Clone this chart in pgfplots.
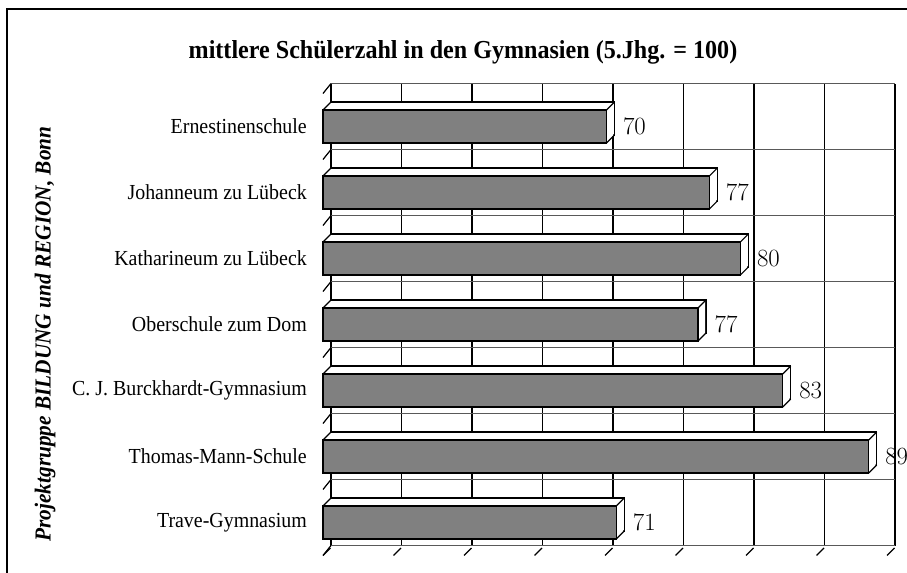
\documentclass[border=0pt]{standalone}
\usepackage{pgfplots}
\pgfplotsset{compat=1.18}
\usepackage{pgfplotstable}
\usepackage{fontspec}
\setmainfont{Liberation Serif}[FakeStretch=0.93]

\pgfplotstableread{
idx val
6 70.1
5 77.4
4 79.6
3 76.6
2 82.6
1 88.7
0 70.8
}\data

\newcommand\lab{\fontsize{21.5}{25}\selectfont}
\newcommand\vlab{\fontsize{23}{27}\selectfont}
\definecolor{bargray}{HTML}{808080}
\pgfplotsset{mybar/.style={xbar, bar shift=0pt, bar width=0.5}}

\begin{document}
\begin{tikzpicture}
\useasboundingbox (0,0) rectangle (907bp,573bp);
\draw[line width=2bp] (7bp,-20bp) -- (7bp,564bp) -- (930bp,564bp);
\node[font=\fontsize{26}{30}\selectfont\bfseries] at (463bp,521bp) {mittlere Schülerzahl in den Gymnasien (5.Jhg. = 100)};
\node[rotate=90, font=\fontsize{23}{27}\selectfont\bfseries\itshape] at (45bp,239bp) {Projektgruppe BILDUNG und REGION, Bonn};

% back wall
\begin{axis}[
  at={(331bp,27.5bp)}, anchor=south west,
  scale only axis, width=564bp, height=462bp,
  xmin=0, xmax=40, ymin=-0.5, ymax=6.5,
  axis line style={draw=none},
  xtick={0,5,...,40}, ytick={-0.5,0.5,...,6.5},
  xticklabels={}, yticklabels={},
  major tick length=0pt,
  xmajorgrids, ymajorgrids,
  x grid style={black, line width=1.2bp},
  y grid style={black!65, line width=1.6bp},
]
\end{axis}

% front
\begin{axis}[
  at={(323bp,17.5bp)}, anchor=south west,
  scale only axis, width=564bp, height=462bp,
  xmin=0, xmax=40, ymin=-0.5, ymax=6.5,
  axis line style={draw=none},
  xtick=\empty, ytick={0,...,6},
  yticklabels={Trave-Gymnasium, Thomas-Mann-Schule, C. J. Burckhardt-Gymnasium, Oberschule zum Dom, Katharineum zu Lübeck, Johanneum zu Lübeck, Ernestinenschule},
  major tick length=0pt,
  yticklabel style={font=\lab, inner sep=0pt, xshift=-16bp},
  clip=false,
]
% floor depth ticks
\addplot[quiver={u=0.53,v=0.114}, black, line width=1.2bp] coordinates {(0,-0.5) (5,-0.5) (10,-0.5) (15,-0.5) (20,-0.5) (25,-0.5) (30,-0.5) (35,-0.5) (40,-0.5)};
% left wall depth lines
\addplot[quiver={u=0.567,v=0.151}, black, line width=1.2bp] coordinates {(0,-0.5) (0,0.5) (0,1.5) (0,2.5) (0,3.5) (0,4.5) (0,5.5) (0,6.5)};

% back face of bars
\addplot[mybar, fill=white, draw=black, line width=1.2bp, xshift=8bp, yshift=8bp] table[x expr=\thisrow{val}-50, y=idx] {\data};
\pgfplotsinvokeforeach{7,6,5,4,3,2,1}{
  \addplot[mybar, fill=white, draw=none, xshift=#1bp, yshift=#1bp] table[x expr=\thisrow{val}-50, y=idx] {\data};
}
% depth edges
\addplot[quiver={u=0.567,v=0.121}, black, line width=1.2bp] table[x expr=0, y expr=\thisrow{idx}+0.25] {\data};
\addplot[quiver={u=0.567,v=0.121}, black, line width=1.2bp] table[x expr=\thisrow{val}-50, y expr=\thisrow{idx}+0.25] {\data};
\addplot[quiver={u=0.567,v=0.121}, black, line width=1.2bp] table[x expr=\thisrow{val}-50, y expr=\thisrow{idx}-0.25] {\data};
% front face
\addplot[mybar, fill=bargray, draw=black, line width=1.3bp,
  point meta=explicit,
  nodes near coords={\pgfmathprintnumber[fixed,precision=0]{\pgfplotspointmeta}},
  every node near coord/.append style={anchor=west, inner sep=0pt, xshift=16bp, font=\vlab, text=black}]
  table[x expr=\thisrow{val}-50, y=idx, meta=val] {\data};
\end{axis}
\end{tikzpicture}
\end{document}
